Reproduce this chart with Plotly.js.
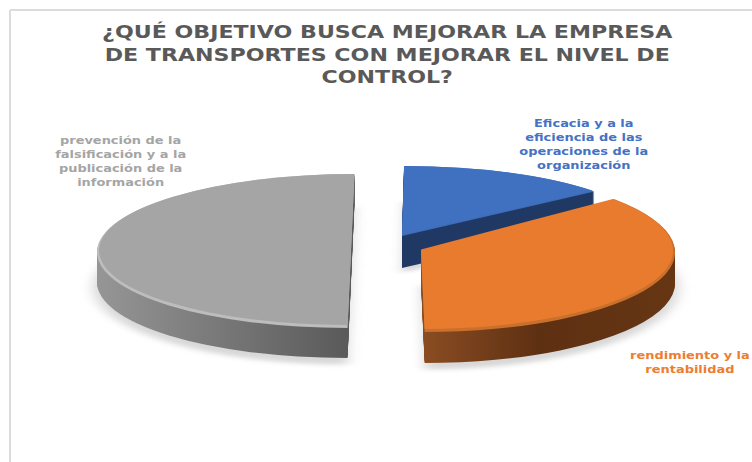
<!DOCTYPE html>
<html><head><meta charset="utf-8">
<script src="https://cdn.plot.ly/plotly-3.0.1.min.js"></script>
<style>html,body{margin:0;padding:0;background:#fff;overflow:hidden}#c{width:752px;height:462px}</style>
</head><body><div id="c"></div>
<script>
const categories = ["Eficacia y a la eficiencia de las operaciones de la organización","rendimiento y la rentabilidad","prevención de la falsificación y a la publicación de la información"];
const values = [14, 36, 50];
const topColors = ["#4070c0", "#e97b2f", "#a5a5a5"];
const rimColors = ["#3f6db8", "#c9702c", "#bdbdbd"];
const sideColors = ["#203864", "#6a3614", "#7a7a7a"];
const labelColors = ["#4472c4", "#ed7d31", "#a5a5a5"];
const titleText = "¿QUÉ OBJETIVO BUSCA MEJORAR LA EMPRESA<br>DE TRANSPORTES CON MEJORAR EL NIVEL DE<br>CONTROL?";
const labelLines = ["Eficacia y a la<br>eficiencia de las<br>operaciones de la<br>organización","rendimiento y la<br>rentabilidad","prevención de la<br>falsificación y a la<br>publicación de la<br>información"];

// placement of each exploded slice once projected: [centre x, centre y, radius x, radius y, depth, lean]
const placement = [[402,236,248,70,32,-0.03],[421,251,254,81,31,0.045],[351,251,254,77,30,-0.045]];
const drawOrder = [2,0,1];
const gradients = {0:"g0",1:"g1",2:"g2"};

const layers = [], data = [];
function addLayer(slice, color, dy, kx, ky, kind){
  const cols = values.map((_,i)=> i===slice ? color : "rgba(0,0,0,0)");
  data.push({type:"pie", labels:categories, values:values, sort:false, direction:"clockwise", rotation:0,
    textinfo:"none", hoverinfo:"skip", showlegend:false, domain:{x:[0.2,0.8],y:[0.05,0.95]},
    marker:{colors:cols, line:{width:0}}});
  layers.push({slice, dy, kx, ky, kind});
}
drawOrder.forEach(s=>{
  const d = placement[s][4];
  addLayer(s, "#d8d8d8", d+5, 1.015, 1.02, "shadow");
  for(let y=d; y>=1; y--) addLayer(s, sideColors[s], y, 1, 1, "side");
  addLayer(s, rimColors[s], 0, 1, 1, "rim");
  addLayer(s, topColors[s], -1.5, 0.992, 0.98, "top");
});

const labelPos = [[584,144],[690,362],[120,161]];
const layout = {
  width:752, height:462, margin:{l:0,r:0,t:0,b:0}, paper_bgcolor:"#fff", showlegend:false,
  title:{text:titleText, x:0.515, xanchor:"center", y:0.985, yanchor:"top", pad:{t:31},
    font:{family:"DejaVu Sans", size:17.5, color:"#595959", weight:700}},
  shapes:[
    {type:"line",xref:"paper",yref:"paper",x0:10/752,x1:10/752,y0:0,y1:1-10/462,line:{color:"#dcdcdc",width:2}},
    {type:"line",xref:"paper",yref:"paper",x0:10/752,x1:1,y0:1-10/462,y1:1-10/462,line:{color:"#dcdcdc",width:2}}
  ],
  annotations: labelLines.map((t,i)=>({text:"<b>"+t+"</b>", xref:"paper", yref:"paper",
    x:labelPos[i][0]/752, y:1-labelPos[i][1]/462, xanchor:"center", yanchor:"middle", align:"center",
    showarrow:false, font:{family:"DejaVu Sans", size:10.8, color:labelColors[i]}}))
};

function stretch(el, k){
  const b = el.getBBox(), c = b.x + b.width/2;
  el.setAttribute("transform",`translate(${c},0) scale(${k},1) translate(${-c},0)`);
}

Plotly.newPlot("c", data, layout, {staticPlot:true, displayModeBar:false}).then(gd=>{
  const svg = gd.querySelector(".main-svg");
  const NS = "http://www.w3.org/2000/svg";
  const defs = document.createElementNS(NS,"defs");
  const stops = {
    g0:[[0,"#203864"],[1,"#203864"]],
    g1:[[0,"#8a4c22"],[0.45,"#5e3012"],[1,"#663614"]],
    g2:[[0,"#969696"],[1,"#5a5a5a"]]
  };
  Object.keys(stops).forEach(id=>{
    const g = document.createElementNS(NS,"linearGradient");
    g.setAttribute("id",id); g.setAttribute("x1","0"); g.setAttribute("x2","1"); g.setAttribute("y1","0"); g.setAttribute("y2","0");
    stops[id].forEach(s=>{const st=document.createElementNS(NS,"stop");st.setAttribute("offset",s[0]);st.setAttribute("stop-color",s[1]);g.appendChild(st);});
    defs.appendChild(g);
  });
  svg.appendChild(defs);
  gd.querySelectorAll(".pielayer .trace").forEach(el=>{
    const cd = el.__data__[0];
    const L = layers[cd.trace.index];
    const p = placement[L.slice];
    const sx = p[2]/cd.r*L.kx, sy = p[3]/cd.r*L.ky;
    el.setAttribute("transform",`translate(${p[0]},${p[1]+L.dy}) matrix(1 0 ${p[5]} 1 0 0) scale(${sx},${sy}) translate(${-cd.cx},${-cd.cy})`);
    const path = el.querySelectorAll(".slice path.surface")[L.slice];
    if(L.kind==="side") path.style.fill = `url(#${gradients[L.slice]})`;
    if(L.kind==="shadow") el.style.filter = "blur(5px)";
  });
  const t = gd.querySelector(".gtitle");
  if(t) stretch(t, 1.265);
  gd.querySelectorAll(".annotation-text").forEach(a=>stretch(a, 1.2));
});
</script></body></html>
